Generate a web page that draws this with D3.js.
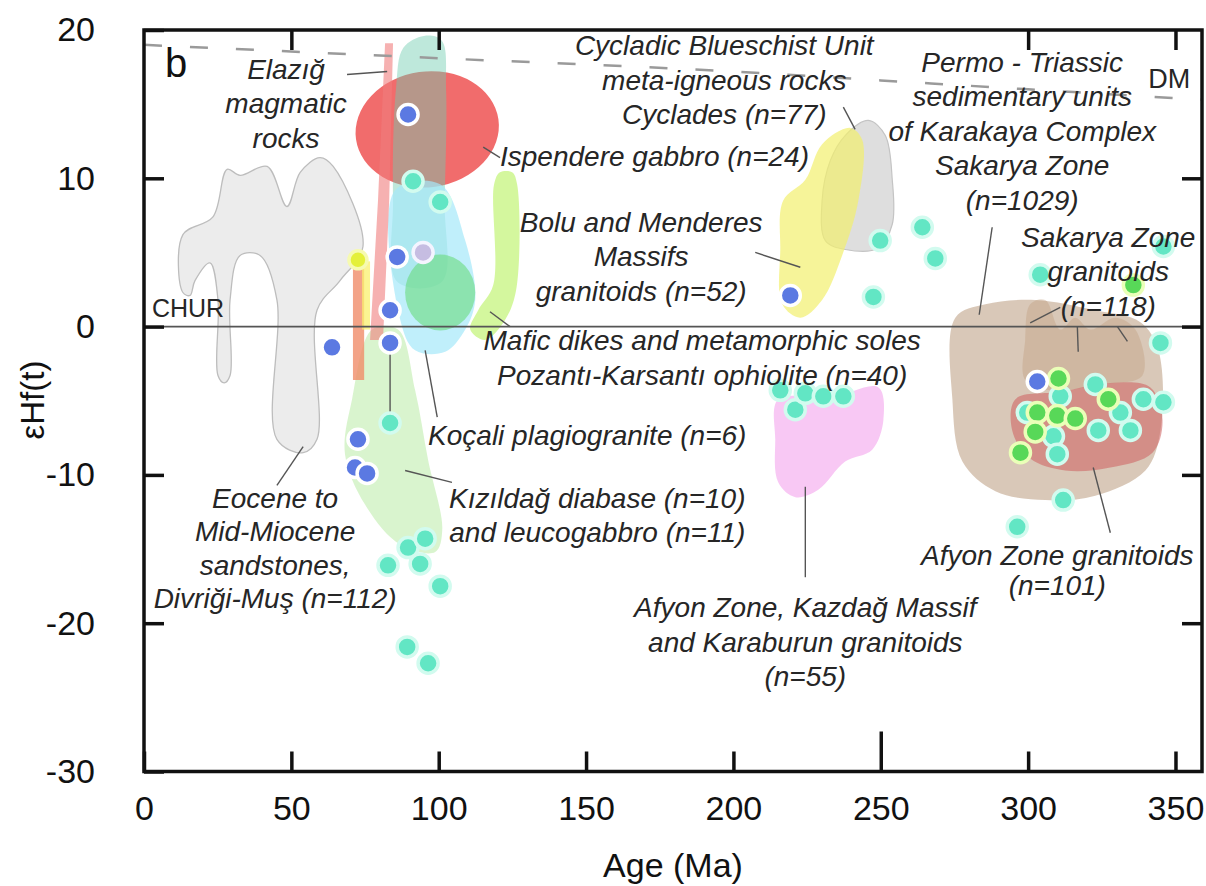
<!DOCTYPE html>
<html>
<head>
<meta charset="utf-8">
<script src="https://cdn.jsdelivr.net/npm/d3@7"></script>
<style>
  body { margin: 0; background: #fff; }
  text { font-family: "Liberation Sans", Arial, sans-serif; }
</style>
</head>
<body>
<div id="chart"></div>
<script>
const width = 1206;
const height = 886;

// ---- data (age in Ma, eHf(t)) ----
const xTicks = [0, 50, 100, 150, 200, 250, 300, 350];
const yTicks = [-30, -20, -10, 0, 10, 20];

// fields
const eoceneField = [[13.2,2.3],[13.2,6.2],[23.4,7.4],[28.2,10.6],[32.6,10.2],[41.8,10.8],[48.5,8.1],[53,10.4],
  [59.7,11.4],[64.2,10.8],[74.3,5.4],[66.5,3.1],[58.7,1.1],[58.7,-7.6],[54,-8.5],[45.1,-7.6],[45.1,1.8],
  [39.4,4.8],[32.6,4.8],[29.2,1.8],[29.2,-3.3],[27.2,-3.8],[25.1,-3.3],[25.1,1.8],[22.4,4.3],[17.3,3.1],[15.6,2.1]];
const cycladicField = [[238,12.9],[245.8,13.9],[251.5,12.9],[253.9,9.9],[253.9,6.9],[249.2,5.3],[238,5.2],[231.2,5.8],[230.1,8.5],[232.9,11.2]];
const boluField = [[216.9,8.5],[224.4,9.9],[230.1,12.3],[239.6,13.4],[243.7,12.6],[242.4,8.5],[236.9,4.8],[230.1,1.8],[222.7,0.6],[216.6,1.5],[215.9,5.2]];
const karakayaField = [[275.3,0.6],[285.5,1.5],[302.4,1.8],[322.8,1.1],[338.1,0.3],[344.2,-1.6],[344.9,-7],[339.8,-9.7],
  [322.8,-11.4],[305.8,-11.7],[288.9,-11.1],[277.7,-9.1],[274.3,-4.9]];
const sakaryaGrField = [[299,-0.9],[300.7,1.5],[305.8,1.8],[310.9,-0.2],[316,0.6],[321.1,-0.2],[329.6,0.6],[336.4,-0.2],
  [338.8,-3.3],[324.5,-3.9],[307.5,-4.3],[299,-3.6]];
const afyonGrField = [[295.7,-4.9],[310.9,-4.4],[327.9,-3.8],[341.5,-4.1],[345.6,-6.3],[342.2,-8.5],[327.9,-9.5],[312.6,-9.7],[300.7,-8.9],[294.6,-7]];
const kazdagField = [[215.2,-4.9],[232.9,-4.8],[249.2,-4.1],[250.9,-6.3],[247.1,-8.3],[237.9,-9.1],[228.8,-11],[221,-11.5],[215.2,-10.5],[214.2,-7.6]];
const kizildagField = [[77.4,-0.2],[86.2,-0.2],[92,-4.3],[96.4,-9],[101.2,-13.7],[98.8,-15.2],[86.9,-14.7],[75,-12],[68.2,-8.6],[70.6,-4.9]];
const mintField = [[85.5,16],[88,18.8],[95,19.6],[101,19.3],[102.5,16],[102,8.5],[101,3],[86,3],[84.5,8.5]];
const kocaliField = [[85.2,9.2],[100.5,9.6],[109,5.8],[112.4,1.8],[109,-0.2],[102.2,-1.7],[92,-1.6],[86.9,0.5]];
const maficBand = [[118.8,9.6],[120.8,10.4],[124.9,10.4],[126.6,9.6],[126.3,2.5],[122.5,0.45],[115.7,-0.9],[110.7,-0.2],[113.4,1.1],[118.5,2.8]];
const elazigBar = [[81.8,19.1],[84.5,19.1],[83.2,8.5],[81.1,-0.9],[76.7,-0.9],[79.4,8.5]];
const orangeBar = [[70.9,4.0],[74.7,4.0],[74.7,-3.6],[70.9,-3.6]];
const yellowBar = [[74,4.4],[76.7,4.4],[76.7,-0.2],[74,-0.2]];

// ellipses: [centre age, centre eHf, radius age, radius eHf]
const ispendereEllipse = [96.1, 13.3, 24.4, 3.9];
const maficEllipse = [100.5, 2.3, 11.9, 2.56];

// reference curves
const churLine = [[0,0],[359,0]];
const dmLine = [[0,19],[100,18.1],[200,17.2],[250,16.6],[300,16.0],[359,15.3]];

// points
const bluePts = [[89.6,14.3],[85.9,4.7],[83.5,1.1],[83.5,-1.1],[63.8,-1.4],[72.6,-7.6],[71.6,-9.5],[75.7,-9.9],[303.1,-3.7],[219.3,2.1]];
const cyanPts = [[91.3,9.8],[100.5,8.4],[83.5,-6.5],[89.6,-14.9],[95.4,-14.3],[93.7,-16.0],[82.8,-16.1],[100.5,-17.5],[89.3,-21.6],[96.4,-22.7],
  [249.8,5.8],[264.1,6.7],[268.5,4.6],[247.5,2.0],[304.1,3.5],[345.9,5.4],[344.9,-1.1],
  [310.9,-4.7],[299.7,-5.8],[322.8,-3.9],[308.6,-7.4],[309.9,-8.6],[323.8,-7.0],[334.7,-7.0],[339.1,-4.9],[345.9,-5.1],[331.3,-5.8],
  [311.9,-11.7],[296.3,-13.5],
  [215.9,-4.3],[221,-5.6],[224.4,-4.5],[230.5,-4.7],[237.3,-4.7]];
const greenPts = [[310.3,-3.5],[303.1,-5.8],[309.9,-6.0],[316,-6.2],[302.4,-7.1],[297.4,-8.5],[327.2,-4.9],[335.7,2.8]];
const lavenderPts = [[94.7,5.0]];
const yellowPts = [[72.6,4.5]];

// leader lines
const leaders = [
  [[68.9,17.0],[82.5,17.2]], [[115.1,12.1],[120.8,11.4]], [[207.4,5.0],[222.7,4.0]], [[237.3,14.8],[241.3,13.3]],
  [[287.8,6.7],[283.4,0.8]], [[310.9,1.3],[300.7,0.25]], [[316.7,0],[317,-1.7]], [[330.3,0],[333.7,-1.0]],
  [[117.4,1.0],[124.2,0]], [[95.4,-1.6],[99.5,-6.1]], [[88.6,-9.7],[104.5,-10.5]], [[45.1,-10.7],[54,-8.1]],
  [[224.4,-10.8],[224.4,-16.9]], [[322.1,-9.5],[327.9,-13.9]], [[83.5,-1.1],[83.5,-6.5]]
];

// annotations: anchor age, anchor eHf, text lines
const notes = [
  { at: [48.2, 16.7], lines: ["Elazığ", "magmatic", "rocks"] },
  { at: [196.9, 18.3], lines: ["Cycladic Blueschist Unit", "meta-igneous rocks", "Cyclades (n=77)"] },
  { at: [120.8, 10.8], lines: ["Ispendere gabbro (n=24)"], anchor: "start" },
  { at: [168.7, 6.4], lines: ["Bolu and Menderes", "Massifs", "granitoids (n=52)"] },
  { at: [298, 17.2], lines: ["Permo - Triassic", "sedimentary units", "of Karakaya Complex", "Sakarya Zone", "(n=1029)"] },
  { at: [327.2, 5.4], lines: ["Sakarya Zone", "granitoids", "(n=118)"] },
  { at: [189.4, -1.6], lines: ["Mafic dikes and metamorphic soles", "Pozantı-Karsantı ophiolite (n=40)"] },
  { at: [150.4, -8.0], lines: ["Koçali plagiogranite (n=6)"] },
  { at: [153.8, -12.2], lines: ["Kızıldağ diabase (n=10)", "and leucogabbro (n=11)"] },
  { at: [224.4, -19.6], lines: ["Afyon Zone, Kazdağ Massif", "and Karaburun granitoids", "(n=55)"] },
  { at: [309.9, -16.1], lines: ["Afyon Zone granitoids", "(n=101)"], gap: 30 },
  { at: [44.5, -12.2], lines: ["Eocene to", "Mid-Miocene", "sandstones,", "Divriği-Muş (n=112)"], gap: 33.5 }
];

// ---- drawing ----
const svg = d3.select("#chart")
    .append("svg")
    .attr("width", width)
    .attr("height", height)
    .style("background", "#fff");

const x = d3.scaleLinear().domain([0, 359]).range([144, 1202]);
const y = d3.scaleLinear().domain([-30, 20]).range([771.5, 30]);

const area = svg.append("g");
const smooth = d3.line().x(d => x(d[0])).y(d => y(d[1])).curve(d3.curveCatmullRomClosed.alpha(0.5));
const straight = d3.line().x(d => x(d[0])).y(d => y(d[1]));

function field(pts, fill, stroke, sw, curve) {
  area.append("path")
      .attr("d", (curve === false ? straight : smooth)(pts) + (curve === false ? "Z" : ""))
      .attr("fill", fill)
      .attr("stroke", stroke || "none")
      .attr("stroke-width", sw || 0);
}

function ellipse(e, fill, rot) {
  const cx = x(e[0]), cy = y(e[1]);
  area.append("ellipse")
      .attr("cx", cx).attr("cy", cy)
      .attr("rx", x(e[0] + e[2]) - cx)
      .attr("ry", cy - y(e[1] + e[3]))
      .attr("transform", `rotate(${rot || 0},${cx},${cy})`)
      .attr("fill", fill);
}

field(eoceneField, "#ececec", "#bdbdbd", 1.3);
field(cycladicField, "#dedede", "#c4c4c4", 1.2);
field(boluField, "rgba(242,240,110,0.7)");
field(karakayaField, "rgba(208,186,166,0.8)");
field(sakaryaGrField, "rgba(185,145,110,0.3)");
field(afyonGrField, "rgba(205,95,95,0.55)");
field(kazdagField, "rgba(246,182,240,0.75)");
field(kizildagField, "rgba(185,235,165,0.55)");
ellipse(ispendereEllipse, "rgba(240,100,100,0.95)", -8);
field(mintField, "rgba(110,205,175,0.45)");
field(kocaliField, "rgba(165,232,250,0.7)");
ellipse(maficEllipse, "rgba(105,218,125,0.6)", 0);
field(maficBand, "rgba(198,244,125,0.75)");
field(orangeBar, "rgba(240,140,105,0.8)", null, 0, false);
field(yellowBar, "rgba(250,240,110,0.75)", null, 0, false);
field(elazigBar, "rgba(240,125,125,0.6)", null, 0, false);

// reference lines
svg.append("path")
    .attr("d", straight(churLine))
    .attr("fill", "none")
    .attr("stroke", "#555")
    .attr("stroke-width", 1.6);

svg.append("path")
    .attr("d", d3.line().x(d => x(d[0])).y(d => y(d[1])).curve(d3.curveMonotoneX)(dmLine))
    .attr("fill", "none")
    .attr("stroke", "#9a9a9a")
    .attr("stroke-width", 2.5)
    .attr("stroke-dasharray", "18,28");

// leaders
svg.append("g").selectAll("path")
    .data(leaders)
    .enter().append("path")
    .attr("d", d => straight(d))
    .attr("stroke", "#555")
    .attr("stroke-width", 1.4)
    .attr("fill", "none");

// points
function dots(pts, fill, stroke, r) {
  svg.append("g").selectAll("circle")
      .data(pts)
      .enter().append("circle")
      .attr("cx", d => x(d[0]))
      .attr("cy", d => y(d[1]))
      .attr("r", r)
      .attr("fill", fill)
      .attr("stroke", stroke)
      .attr("stroke-width", 3.5);
}
dots(cyanPts, "#62e6c4", "#d2fbef", 10);
dots(greenPts, "#58d858", "#eaffb8", 10);
dots(lavenderPts, "#c6bde2", "#f4f4ff", 10);
dots(yellowPts, "#e4f03a", "#f6fab0", 9);
dots(bluePts, "#5b79e2", "#ffffff", 10);

// annotations
const noteG = svg.append("g")
    .attr("font-style", "italic")
    .attr("font-size", 28)
    .attr("fill", "#262626");

notes.forEach(n => {
  const t = noteG.append("text")
      .attr("x", x(n.at[0]))
      .attr("y", y(n.at[1]))
      .attr("text-anchor", n.anchor || "middle");
  n.lines.forEach((line, i) => {
    t.append("tspan")
        .attr("x", x(n.at[0]))
        .attr("dy", i === 0 ? 0 : (n.gap || 34.5))
        .text(line);
  });
});

svg.append("text")
    .attr("x", x(2.7)).attr("y", y(0.65))
    .attr("font-size", 25).attr("fill", "#262626")
    .text("CHUR");

svg.append("text")
    .attr("x", x(340.8)).attr("y", y(16.1))
    .attr("font-size", 27).attr("fill", "#262626")
    .text("DM");

svg.append("text")
    .attr("x", x(7.1)).attr("y", y(16.8))
    .attr("font-size", 40).attr("fill", "#111")
    .text("b");

// axes
const fmt = d => String(d);

const gx = svg.append("g")
    .attr("transform", `translate(0,${y(-30)})`)
    .call(d3.axisBottom(x).tickValues(xTicks).tickFormat(fmt).tickSizeInner(-20).tickSizeOuter(0).tickPadding(24));
gx.selectAll(".tick line").attr("y2", d => d === 250 ? -40 : -20);

const gy = svg.append("g")
    .attr("transform", `translate(${x(0)},0)`)
    .call(d3.axisLeft(y).tickValues(yTicks).tickFormat(fmt).tickSizeInner(-20).tickSizeOuter(0).tickPadding(49));

svg.append("g")
    .attr("transform", `translate(0,${y(20)})`)
    .call(d3.axisTop(x).tickValues([50, 100, 300, 350]).tickSizeInner(-20).tickSizeOuter(0).tickFormat(""));

svg.append("g")
    .attr("transform", `translate(${x(359)},0)`)
    .call(d3.axisRight(y).tickValues([-20, -10, 0, 10]).tickSizeInner(-20).tickSizeOuter(0).tickFormat(""));

svg.selectAll(".domain").remove();
svg.selectAll(".tick line").attr("stroke", "#111").attr("stroke-width", 3.5);
svg.selectAll(".tick text")
    .attr("font-family", "'Liberation Sans', Arial, sans-serif")
    .attr("font-size", 34)
    .attr("fill", "#111");

svg.append("rect")
    .attr("x", x(0)).attr("y", y(20))
    .attr("width", x(359) - x(0))
    .attr("height", y(-30) - y(20))
    .attr("fill", "none")
    .attr("stroke", "#111")
    .attr("stroke-width", 3.5);

svg.append("text")
    .attr("x", (x(0) + x(359)) / 2)
    .attr("y", 877)
    .attr("text-anchor", "middle")
    .attr("font-size", 34)
    .attr("fill", "#111")
    .text("Age (Ma)");

svg.append("text")
    .attr("transform", "translate(44,400) rotate(-90)")
    .attr("text-anchor", "middle")
    .attr("font-size", 33)
    .attr("fill", "#111")
    .text("εHf(t)");
</script>
</body>
</html>
